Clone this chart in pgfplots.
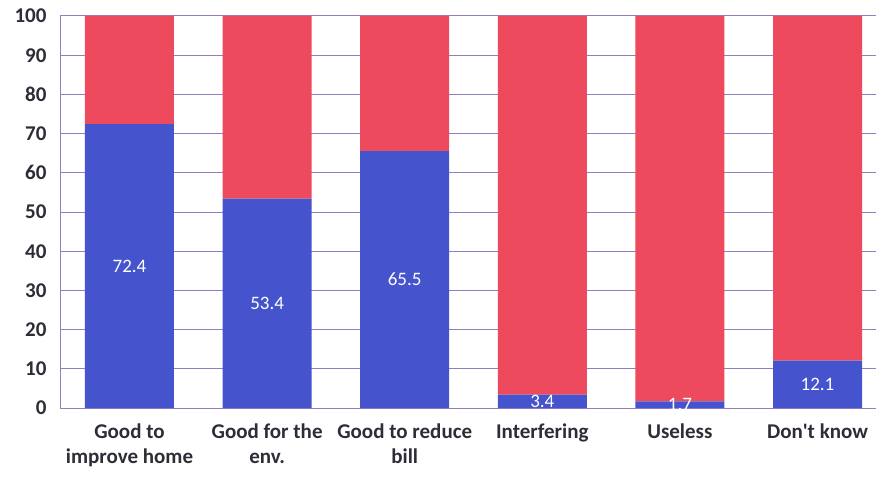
\documentclass[border=0pt]{standalone}
\usepackage{fontspec}
\setmainfont{Carlito}
\usepackage{pgfplots}
\pgfplotsset{compat=1.18}
\definecolor{barblue}{RGB}{69,84,205}
\definecolor{barred}{RGB}{238,74,94}
\definecolor{gridpurple}{RGB}{150,125,195}
\definecolor{labelgray}{RGB}{45,45,55}
\begin{document}
\begin{tikzpicture}
\begin{axis}[
  x=137.6pt, y=3.92pt,
  xmin=-0.505, xmax=5.425, ymin=0, ymax=100,
  ybar stacked, bar width=89pt,
  axis x line*=bottom, axis y line*=left,
  axis line style={draw=gridpurple, line width=1pt, -},
  ytick={0,10,...,100}, ymajorgrids,
  grid style={draw=gridpurple, line width=1pt},
  major tick length=0pt,
  xtick={0,...,5},
  xticklabels={{Good to\\improve home},{Good for the\\env.},{Good to reduce\\bill},Interfering,Useless,{Don\textquotesingle t know}},
  xticklabel style={align=center, text=labelgray, anchor=north, yshift=-12pt,
    font=\fontsize{21}{25}\selectfont\bfseries},
  yticklabel style={text=labelgray, anchor=east, xshift=-10pt,
    font=\fontsize{21}{25}\selectfont\bfseries},
  /pgf/number format/assume math mode=true,
  clip=false,
]
% blue share, labels centred in the segment
\addplot[fill=barblue, draw=none,
  nodes near coords,
  nodes near coords style={text=white, anchor=center,
    font=\fontsize{19}{22}\selectfont,
    /pgf/number format/.cd, fixed, precision=1, fixed zerofill}]
  coordinates {(0,72.4) (1,53.4) (2,65.5) (3,3.4) (4,1.7) (5,12.1)};
% rest up to 100
\addplot[fill=barred, draw=none]
  coordinates {(0,27.6) (1,46.6) (2,34.5) (3,96.6) (4,98.3) (5,87.9)};
\coordinate (bl) at (rel axis cs:0,0);
\coordinate (tr) at (rel axis cs:1,1);
\end{axis}
\pgfresetboundingbox
\path[use as bounding box] ([shift={(-60pt,-68pt)}]bl) rectangle ([shift={(1pt,16pt)}]tr);
\end{tikzpicture}
\end{document}
